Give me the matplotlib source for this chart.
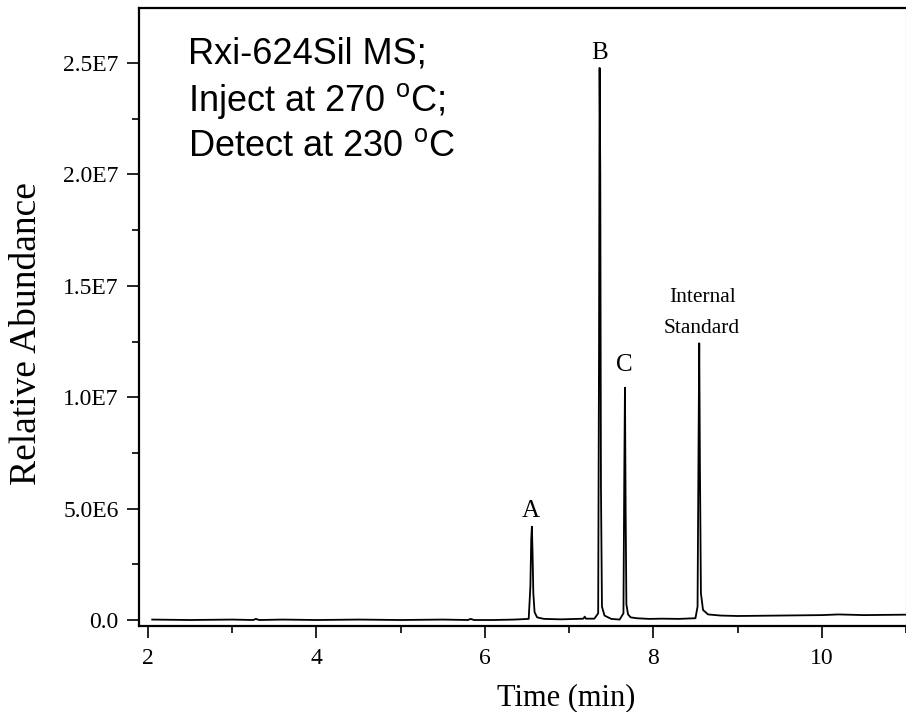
import matplotlib
matplotlib.use("Agg")
import matplotlib.pyplot as plt
from matplotlib.ticker import MultipleLocator

# chromatogram trace (time in min, abundance)
time = [2.05, 2.5, 3.0, 3.25, 3.28, 3.32, 3.6, 4.0, 4.5, 5.0, 5.5, 5.8, 5.83, 5.87,
        6.1, 6.35, 6.52, 6.54, 6.55, 6.558, 6.566, 6.575, 6.59, 6.62, 6.7, 6.9,
        7.1, 7.17, 7.185, 7.2, 7.3, 7.345, 7.355, 7.362, 7.37, 7.378, 7.39, 7.42,
        7.5, 7.6, 7.645, 7.655, 7.663, 7.671, 7.68, 7.7, 7.73, 7.8, 7.95, 8.1,
        8.3, 8.5, 8.525, 8.537, 8.545, 8.553, 8.565, 8.59, 8.65, 8.8, 9.0, 9.5,
        10.0, 10.2, 10.5, 11.0]
abund = [0.02e6, 0.0, 0.02e6, 0.0, 0.05e6, 0.0, 0.02e6, 0.0, 0.02e6, 0.0,
         0.02e6, 0.0, 0.05e6, 0.0, 0.0, 0.02e6, 0.05e6, 1.5e6, 3.6e6, 4.19e6,
         3.0e6, 1.2e6, 0.35e6, 0.12e6, 0.05e6, 0.03e6, 0.05e6, 0.06e6, 0.15e6,
         0.06e6, 0.06e6, 0.3e6, 12.0e6, 24.78e6, 20.0e6, 6.0e6, 0.6e6, 0.2e6,
         0.05e6, 0.02e6, 0.3e6, 6.5e6, 10.43e6, 5.0e6, 0.7e6, 0.25e6, 0.12e6,
         0.08e6, 0.05e6, 0.06e6, 0.05e6, 0.08e6, 0.6e6, 8.0e6, 12.42e6, 7.0e6,
         1.2e6, 0.45e6, 0.25e6, 0.2e6, 0.18e6, 0.2e6, 0.22e6, 0.25e6, 0.22e6, 0.24e6]

# peak labels
peak_names = ["A", "B", "C"]
peak_x = [6.545, 7.365, 7.66]
peak_y = [4.62e6, 25.2e6, 11.18e6]

xticks = [2, 4, 6, 8, 10]
yticks = [0, 5e6, 1e7, 1.5e7, 2e7, 2.5e7]
ytick_labels = ["0.0", "5.0E6", "1.0E7", "1.5E7", "2.0E7", "2.5E7"]

serif = "Liberation Serif"
sans = "Liberation Sans"

fig = plt.figure(figsize=(9.06, 7.12), dpi=100)
ax = fig.add_axes([139/906, 86/712, 767/906, 618/712])

ax.plot(time, abund, color="black", lw=1.3)

ax.set_xlim(1.893, 11.0)
ax.set_ylim(-0.269e6, 27.47e6)

ax.set_xticks(xticks)
ax.xaxis.set_minor_locator(MultipleLocator(1))
ax.set_yticks(yticks)
ax.set_yticklabels(ytick_labels)
ax.yaxis.set_minor_locator(MultipleLocator(2.5e6))

ax.tick_params(which="major", direction="out", length=8.6, width=1.2,
               labelsize=17, pad=6)
ax.tick_params(which="minor", direction="out", length=5, width=1.2)
ax.tick_params(axis="x", which="major", pad=7)
for lab in ax.get_xticklabels() + ax.get_yticklabels():
    lab.set_family(serif)

for s in ["left", "bottom", "top"]:
    ax.spines[s].set_linewidth(1.6)
ax.spines["right"].set_linewidth(0.8)
ax.spines["right"].set_color("#888888")

ax.set_xlabel("Time (min)", family=serif, fontsize=22)
ax.xaxis.set_label_coords(0.557, -0.093)
ax.set_ylabel("Relative Abundance", family=serif, fontsize=27)
ax.yaxis.set_label_coords(-0.124, 0.474)

for name, x, y in zip(peak_names, peak_x, peak_y):
    ax.text(x, y, name, family=serif, fontsize=18, ha="center", va="baseline")
ax.text(8.58, 12.9e6, "Internal\nStandard", family=serif, fontsize=15.5,
        ha="center", va="baseline", linespacing=1.85)

fig.text(188/906, 1 - 37/712,
         "Rxi-624Sil MS;\nInject at 270 $\\mathregular{^{o}}$C;\nDetect at 230 $\\mathregular{^{o}}$C",
         family=sans, fontsize=26, ha="left", va="top", linespacing=1.3)

fig.savefig("out.png", dpi=100)
